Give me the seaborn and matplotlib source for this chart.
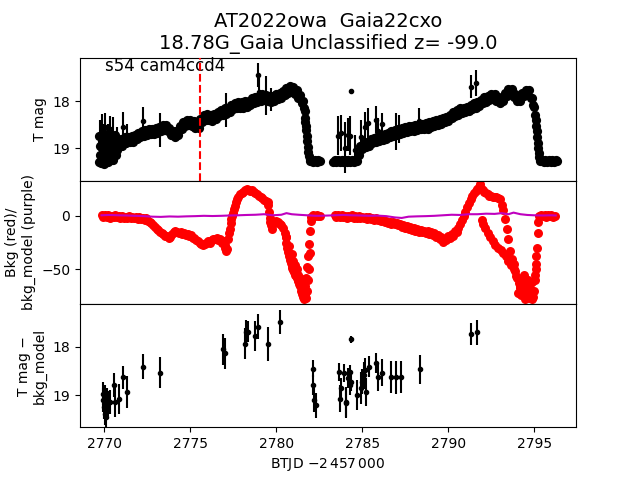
import matplotlib
matplotlib.use("Agg")
import matplotlib.pyplot as plt
import numpy as np
import pandas as pd
import seaborn as sns

# ---------------- data ----------------
title_text = "AT2022owa  Gaia22cxo\n18.78G_Gaia Unclassified z= -99.0"
sector_text = "s54 cam4ccd4"
marker_time = 2775.57

# top panel: dense light curve, segment 1 (time, T mag)
top_seg1 = [
    (2769.70, 19.30), (2769.75, 18.95), (2769.80, 19.32), (2769.85, 18.85), (2769.90, 19.28),
    (2769.95, 19.05), (2770.00, 19.33), (2770.05, 18.75), (2770.10, 19.25), (2770.15, 18.95),
    (2770.20, 19.30), (2770.25, 19.00), (2770.30, 19.20), (2770.35, 18.70), (2770.40, 19.15),
    (2770.45, 18.90), (2770.50, 19.10), (2770.55, 18.80), (2770.60, 19.05), (2770.65, 18.85),
    (2770.70, 18.98), (2770.80, 18.84), (2770.90, 18.95), (2771.00, 18.80), (2771.10, 18.90),
    (2771.20, 18.77), (2771.30, 18.88), (2771.40, 18.76), (2771.50, 18.87), (2771.60, 18.75),
    (2771.70, 18.86), (2771.80, 18.72), (2771.90, 18.81), (2772.00, 18.68), (2772.10, 18.77),
    (2772.20, 18.63), (2772.30, 18.74), (2772.40, 18.61), (2772.50, 18.72), (2772.60, 18.59),
    (2772.70, 18.70), (2772.80, 18.58), (2772.90, 18.69), (2773.00, 18.57), (2773.10, 18.68),
    (2773.20, 18.54), (2773.30, 18.64), (2773.40, 18.51), (2773.50, 18.62), (2773.60, 18.50),
    (2773.70, 18.64), (2773.80, 18.56), (2773.90, 18.72), (2774.00, 18.63), (2774.10, 18.76),
    (2774.20, 18.64), (2774.30, 18.71), (2774.40, 18.52), (2774.50, 18.58), (2774.60, 18.43),
    (2774.70, 18.53), (2774.80, 18.40), (2774.90, 18.51), (2775.00, 18.39), (2775.10, 18.52),
    (2775.20, 18.42), (2775.30, 18.57), (2775.40, 18.46), (2775.50, 18.56), (2775.60, 18.38),
    (2775.70, 18.44), (2775.80, 18.28), (2775.90, 18.39), (2776.00, 18.27), (2776.10, 18.39),
    (2776.20, 18.28), (2776.30, 18.41), (2776.40, 18.27), (2776.50, 18.37), (2776.60, 18.23),
    (2776.70, 18.32), (2776.80, 18.18), (2776.90, 18.28), (2777.00, 18.15), (2777.10, 18.26),
    (2777.20, 18.13), (2777.30, 18.23), (2777.40, 18.08), (2777.50, 18.17), (2777.60, 18.04),
    (2777.70, 18.15), (2777.80, 18.02), (2777.90, 18.14), (2778.00, 18.02), (2778.10, 18.13),
    (2778.20, 18.00), (2778.30, 18.12), (2778.40, 17.98), (2778.50, 18.07), (2778.60, 17.93),
    (2778.70, 18.04), (2778.80, 17.91), (2778.90, 18.02), (2779.00, 17.88), (2779.10, 17.98),
    (2779.20, 17.85), (2779.30, 17.97), (2779.40, 17.86), (2779.50, 17.99), (2779.60, 17.89),
    (2779.70, 18.02), (2779.80, 17.89), (2779.90, 17.99), (2780.00, 17.85), (2780.10, 17.95),
    (2780.20, 17.82), (2780.30, 17.92), (2780.40, 17.77), (2780.50, 17.86), (2780.60, 17.71),
    (2780.70, 17.81), (2780.80, 17.67), (2780.90, 17.80), (2781.00, 17.70), (2781.10, 17.85),
    (2781.20, 17.76), (2781.30, 17.93), (2781.40, 17.86), (2781.50, 18.04), (2781.55, 17.98),
    (2781.60, 18.14), (2781.65, 18.20), (2781.68, 18.35), (2781.70, 18.45), (2781.73, 18.52),
    (2781.76, 18.62), (2781.79, 18.74), (2781.82, 18.85), (2781.85, 18.97), (2781.88, 19.08),
    (2781.91, 19.16), (2781.94, 19.24), (2781.97, 19.27), (2782.05, 19.25), (2782.15, 19.29),
    (2782.25, 19.26), (2782.35, 19.29), (2782.45, 19.26), (2782.55, 19.28),
    # extra points of the noisy block at the start of the sector
    (2769.72, 18.75), (2769.78, 19.15), (2769.88, 19.00), (2769.92, 18.70), (2770.02, 19.10),
    (2770.08, 18.90), (2770.12, 19.10), (2770.18, 18.70), (2770.22, 19.12), (2770.28, 18.80),
    (2770.38, 18.95), (2770.42, 19.25), (2770.48, 18.75), (2770.52, 19.25), (2770.58, 18.95),
    (2770.62, 18.72), (2770.68, 19.15), (2770.75, 19.05), (2770.85, 18.95), (2770.95, 18.82),
    (2771.05, 18.95),
]

# top panel: dense light curve, segment 2 (time, T mag)
top_seg2 = [
    (2783.30, 19.29), (2783.40, 19.25), (2783.50, 19.29), (2783.60, 19.25), (2783.70, 19.29),
    (2783.80, 19.25), (2783.90, 19.29), (2784.00, 19.25), (2784.10, 19.29), (2784.20, 19.25),
    (2784.30, 19.29), (2784.40, 19.25), (2784.50, 19.29), (2784.60, 19.25), (2784.70, 19.27),
    (2784.80, 19.15), (2784.90, 18.95), (2785.00, 19.02), (2785.10, 18.89), (2785.20, 18.98),
    (2785.30, 18.86), (2785.40, 18.95), (2785.50, 18.81), (2785.60, 18.90), (2785.70, 18.78),
    (2785.80, 18.87), (2785.90, 18.75), (2786.00, 18.84), (2786.10, 18.72), (2786.20, 18.82),
    (2786.30, 18.70), (2786.40, 18.80), (2786.50, 18.68), (2786.60, 18.77), (2786.70, 18.64),
    (2786.80, 18.74), (2786.90, 18.62), (2787.00, 18.72), (2787.10, 18.60), (2787.20, 18.70),
    (2787.30, 18.57), (2787.40, 18.67), (2787.50, 18.55), (2787.60, 18.65), (2787.70, 18.53),
    (2787.80, 18.64), (2787.90, 18.52), (2788.00, 18.63), (2788.10, 18.51), (2788.20, 18.62),
    (2788.30, 18.50), (2788.40, 18.60), (2788.50, 18.49), (2788.60, 18.59), (2788.70, 18.47),
    (2788.80, 18.58), (2788.90, 18.45), (2789.00, 18.54), (2789.10, 18.42), (2789.20, 18.52),
    (2789.30, 18.40), (2789.40, 18.50), (2789.50, 18.38), (2789.60, 18.48), (2789.70, 18.35),
    (2789.80, 18.45), (2789.90, 18.33), (2790.00, 18.42), (2790.10, 18.28), (2790.20, 18.36),
    (2790.30, 18.23), (2790.40, 18.32), (2790.50, 18.19), (2790.60, 18.28), (2790.70, 18.15),
    (2790.80, 18.25), (2790.90, 18.13), (2791.00, 18.23), (2791.10, 18.11), (2791.20, 18.20),
    (2791.30, 18.07), (2791.40, 18.16), (2791.50, 18.03), (2791.60, 18.13), (2791.70, 18.01),
    (2791.80, 18.10), (2791.90, 17.96), (2792.00, 18.04), (2792.10, 17.91), (2792.20, 18.01),
    (2792.30, 17.88), (2792.40, 17.97), (2792.50, 17.84), (2792.60, 17.94), (2792.70, 17.84),
    (2792.80, 17.98), (2792.90, 17.90), (2793.00, 18.03), (2793.10, 17.91), (2793.20, 17.98),
    (2793.30, 17.82), (2793.40, 17.88), (2793.50, 17.74), (2793.60, 17.83), (2793.70, 17.74),
    (2793.80, 17.90), (2793.90, 17.85), (2794.00, 18.00), (2794.10, 17.90), (2794.20, 17.98),
    (2794.30, 17.82), (2794.40, 17.89), (2794.50, 17.75), (2794.60, 17.85), (2794.70, 17.75),
    (2794.80, 17.92), (2794.90, 17.93), (2794.95, 18.08), (2795.00, 18.12), (2795.05, 18.30),
    (2795.08, 18.40), (2795.11, 18.52), (2795.14, 18.64), (2795.17, 18.76), (2795.20, 18.88),
    (2795.23, 19.00), (2795.26, 19.10), (2795.29, 19.18), (2795.32, 19.24), (2795.35, 19.27),
    (2795.45, 19.25), (2795.55, 19.29), (2795.65, 19.25), (2795.75, 19.29), (2795.85, 19.25),
    (2795.95, 19.29), (2796.05, 19.25), (2796.15, 19.29), (2796.25, 19.26), (2796.32, 19.28),
]

# top panel: points with visible error bars (time, T mag, error)
top_spikes = [
    (2769.75, 18.70, 0.30), (2769.85, 18.62, 0.35), (2769.96, 18.89, 0.40), (2770.05, 18.55, 0.30),
    (2770.25, 18.80, 0.32), (2770.32, 18.60, 0.28), (2770.54, 18.71, 0.37), (2770.60, 19.05, 0.30),
    (2770.74, 18.85, 0.30), (2771.12, 18.54, 0.32), (2771.32, 18.74, 0.25), (2772.28, 18.41, 0.30),
    (2773.25, 18.61, 0.36), (2777.08, 18.18, 0.36), (2778.95, 17.43, 0.26), (2778.98, 17.80, 0.30),
    (2779.44, 17.87, 0.41), (2779.73, 17.96, 0.25),
    (2783.59, 18.73, 0.41), (2783.79, 18.68, 0.39), (2783.98, 18.99, 0.55), (2784.17, 18.71, 0.36),
    (2784.31, 18.73, 0.41), (2784.33, 17.77, 0.04), (2784.56, 19.04, 0.32), (2784.95, 18.77, 0.38),
    (2785.14, 18.54, 0.32), (2785.33, 18.46, 0.32), (2785.78, 18.39, 0.29), (2785.91, 18.64, 0.29),
    (2786.17, 18.48, 0.23), (2786.98, 18.64, 0.39), (2787.17, 18.59, 0.30), (2788.33, 18.41, 0.27),
    (2791.33, 17.68, 0.25), (2791.62, 17.61, 0.28),
]

# middle panel: background flux (time, bkg)
bkg_seg1 = [
    (2769.85, 0.5), (2769.95, -1.5), (2770.05, 1.0), (2770.15, -1.0), (2770.25, 0.5), (2770.35, -2.0),
    (2770.45, 0.0), (2770.55, -1.5), (2770.65, 1.0), (2770.75, -1.0), (2770.85, 0.0), (2770.95, -2.0),
    (2771.05, -0.5), (2771.15, -2.5), (2771.25, -1.0), (2771.35, -2.0), (2771.45, -0.5), (2771.55, -2.5),
    (2771.65, -1.0), (2771.75, -2.5), (2771.85, -1.5), (2771.95, -3.0), (2772.05, -1.5), (2772.15, -3.0),
    (2772.25, -2.0), (2772.35, -3.5), (2772.45, -2.5), (2772.55, -4.5), (2772.65, -5.5), (2772.75, -7.0),
    (2772.85, -9.0), (2772.95, -10.5), (2773.05, -12.0), (2773.15, -13.0), (2773.25, -15.0), (2773.35, -16.0),
    (2773.45, -17.0), (2773.55, -18.5), (2773.65, -19.0), (2773.75, -20.5), (2773.85, -19.5), (2773.95, -17.5),
    (2774.05, -15.5), (2774.15, -14.0), (2774.25, -15.0), (2774.35, -16.5), (2774.45, -15.5), (2774.55, -17.0),
    (2774.65, -16.0), (2774.75, -18.0), (2774.85, -17.0), (2774.95, -19.0), (2775.05, -18.0), (2775.15, -20.5),
    (2775.25, -21.0), (2775.35, -23.0), (2775.45, -23.5), (2775.55, -25.0), (2775.65, -26.0), (2775.75, -27.5),
    (2775.85, -26.0), (2775.95, -25.0), (2776.05, -24.0), (2776.15, -25.5), (2776.25, -23.0), (2776.35, -22.0),
    (2776.45, -21.5), (2776.55, -21.0), (2776.65, -23.0), (2776.75, -22.0), (2776.85, -25.0), (2776.95, -24.0),
    (2777.00, -27.0), (2777.05, -30.0), (2777.10, -33.0), (2777.15, -31.0), (2777.20, -22.0), (2777.25, -16.0),
    (2777.30, -12.0), (2777.35, -7.0), (2777.40, -3.0), (2777.45, 0.0), (2777.50, 3.0), (2777.55, 6.0),
    (2777.60, 9.0), (2777.65, 13.0), (2777.70, 16.0), (2777.80, 18.0), (2777.90, 20.0), (2778.00, 21.5),
    (2778.10, 22.0), (2778.20, 24.0), (2778.30, 25.0), (2778.40, 24.5), (2778.50, 23.5), (2778.60, 24.0),
    (2778.70, 22.0), (2778.80, 21.0), (2778.90, 20.0), (2779.00, 19.0), (2779.10, 17.5), (2779.20, 16.5),
    (2779.30, 15.0), (2779.40, 14.0), (2779.50, 12.5), (2779.55, 10.0), (2779.60, 4.0), (2779.62, -2.0),
    (2779.65, -6.0), (2779.70, -9.0), (2779.75, -12.0), (2779.80, -8.0), (2779.90, -6.0), (2780.00, -5.0),
    (2780.10, -6.0), (2780.20, -7.5), (2780.30, -9.0), (2780.40, -11.5), (2780.50, -16.0), (2780.55, -20.0),
    (2780.60, -25.0), (2780.65, -30.0), (2780.70, -34.0), (2780.75, -38.0), (2780.80, -41.0), (2780.85, -44.0),
    (2780.90, -47.0), (2780.95, -49.0), (2781.00, -51.0), (2781.05, -53.0), (2781.10, -55.0), (2781.15, -56.0),
    (2781.20, -58.0), (2781.25, -60.0), (2781.30, -61.0), (2781.35, -64.0), (2781.40, -66.0), (2781.45, -70.0),
    (2781.50, -73.0), (2781.55, -76.0), (2781.60, -78.0), (2781.65, -74.0), (2781.70, -66.0), (2781.75, -58.0),
    (2781.80, -48.0), (2781.85, -38.0), (2781.90, -26.0), (2781.95, -14.0), (2782.00, -5.0), (2782.05, -1.0),
    (2782.15, 0.5), (2782.25, -0.5), (2782.35, 0.5), (2782.45, -0.5), (2782.55, 0.0),
    (2780.60, -20.0), (2780.75, -28.0), (2780.90, -36.0), (2781.00, -42.0), (2781.10, -46.0), (2781.20, -50.0),
    (2781.30, -55.0), (2781.40, -58.0), (2781.50, -62.0), (2781.60, -65.0), (2781.70, -72.0), (2781.75, -77.0),
    (2781.80, -70.0), (2781.85, -60.0), (2781.90, -50.0), (2781.95, -35.0),
]

bkg_seg2 = [
    (2783.40, 0.5), (2783.50, -1.0), (2783.60, 1.0), (2783.70, -1.5), (2783.80, 0.5), (2783.90, -1.0),
    (2784.00, 0.0), (2784.10, -2.0), (2784.20, 0.0), (2784.30, -1.5), (2784.40, 0.5), (2784.50, -2.0),
    (2784.60, -0.5), (2784.70, -2.0), (2784.80, -0.5), (2784.90, -2.5), (2785.00, -1.0), (2785.10, -2.5),
    (2785.20, -1.5), (2785.30, -3.0), (2785.40, -1.5), (2785.50, -3.0), (2785.60, -2.0), (2785.70, -3.5),
    (2785.80, -2.5), (2785.90, -4.0), (2786.00, -3.0), (2786.10, -5.0), (2786.20, -4.0), (2786.30, -6.0),
    (2786.40, -5.0), (2786.50, -7.0), (2786.60, -5.5), (2786.70, -7.5), (2786.80, -6.0), (2786.90, -8.0),
    (2787.00, -6.5), (2787.10, -9.0), (2787.20, -7.5), (2787.30, -10.5), (2787.40, -8.5), (2787.50, -11.0),
    (2787.60, -9.5), (2787.70, -12.0), (2787.80, -10.5), (2787.90, -13.0), (2788.00, -11.5), (2788.10, -14.0),
    (2788.20, -12.5), (2788.30, -15.0), (2788.40, -13.0), (2788.50, -15.5), (2788.60, -14.0), (2788.70, -16.0),
    (2788.80, -14.5), (2788.90, -17.0), (2789.00, -15.5), (2789.10, -18.0), (2789.20, -16.5), (2789.30, -19.5),
    (2789.40, -18.0), (2789.50, -22.0), (2789.60, -20.0), (2789.70, -24.5), (2789.80, -22.0), (2789.90, -23.0),
    (2790.00, -19.0), (2790.10, -21.0), (2790.20, -17.0), (2790.30, -18.5), (2790.40, -14.0), (2790.50, -15.0),
    (2790.60, -11.0), (2790.70, -8.0), (2790.80, -4.0), (2790.90, 0.0), (2791.00, 4.0), (2791.10, 8.0),
    (2791.20, 12.0), (2791.30, 16.0), (2791.40, 19.0), (2791.50, 21.0), (2791.60, 23.5), (2791.70, 25.0),
    (2791.80, 27.0), (2791.85, 29.5), (2791.90, 26.0), (2792.00, 24.0), (2792.10, 22.0), (2792.20, 21.0),
    (2792.30, 20.0), (2792.40, 18.5), (2792.50, 19.0), (2792.60, 18.0), (2792.70, 17.5), (2792.80, 18.0),
    (2792.90, 16.5), (2793.00, 15.5), (2793.10, 10.0), (2793.20, 5.0), (2793.30, -3.0), (2793.40, -12.0),
    (2793.50, -22.0), (2793.60, -33.0), (2793.70, -40.0), (2793.80, -45.0), (2793.90, -52.0), (2794.00, -58.0),
    (2794.10, -63.0), (2794.20, -68.0), (2794.30, -60.0), (2794.40, -55.0), (2794.50, -65.0), (2794.60, -72.0),
    (2794.70, -77.0), (2794.80, -74.0), (2794.90, -78.0), (2795.00, -70.0), (2795.05, -60.0), (2795.10, -45.0),
    (2795.15, -30.0), (2795.20, -16.0), (2795.25, -6.0), (2795.30, 0.0), (2795.40, 1.0), (2795.50, -0.5),
    (2795.60, 0.5), (2795.70, -1.0), (2795.80, 0.5), (2795.90, -0.5), (2796.00, 0.5), (2796.10, -1.0),
    (2796.20, 0.0),
    (2791.95, -4.0), (2792.05, -8.0), (2792.15, -11.0), (2792.30, -16.0), (2792.45, -20.0), (2792.60, -24.0),
    (2792.75, -27.0), (2792.90, -30.0), (2793.05, -32.0), (2793.20, -35.0), (2793.35, -38.0), (2793.50, -42.0),
    (2793.65, -46.0), (2793.80, -50.0), (2793.95, -56.0), (2794.05, -72.0), (2794.15, -66.0), (2794.25, -74.0),
    (2794.35, -70.0), (2794.45, -78.0), (2794.55, -62.0), (2794.65, -60.0), (2794.75, -68.0), (2794.85, -62.0),
    (2794.95, -76.0), (2795.02, -55.0), (2795.08, -38.0), (2795.12, -50.0),
]

# middle panel: background model (time, value)
bkg_model = [
    (2769.85, 0.5), (2770.30, 0.8), (2770.80, 0.5), (2771.30, 0.3), (2771.80, 0.0), (2772.30, -0.3),
    (2772.80, -0.8), (2773.30, -1.0), (2773.80, -0.6), (2774.30, -0.8), (2774.80, -0.5), (2775.30, -0.3),
    (2775.80, 0.0), (2776.30, -0.2), (2776.80, 0.0), (2777.30, 0.3), (2777.80, 0.5), (2778.30, 0.8),
    (2778.80, 1.0), (2779.30, 1.5), (2779.80, 0.5), (2780.30, 1.0), (2780.60, 2.5), (2780.90, 1.5),
    (2781.30, 1.0), (2781.80, 0.5), (2782.30, 0.0), (2782.55, 0.0), (2783.40, 0.5), (2783.90, 0.8),
    (2784.40, 0.5), (2784.90, 0.3), (2785.40, 0.0), (2785.90, 0.2), (2786.40, -0.3), (2786.90, -1.5),
    (2787.30, -2.0), (2787.70, -0.8), (2788.20, -0.5), (2788.70, -0.3), (2789.20, 0.0), (2789.70, 0.5),
    (2790.20, 1.0), (2790.70, 0.8), (2791.20, 1.5), (2791.70, 1.5), (2792.20, 2.0), (2792.70, 1.8),
    (2793.10, 2.5), (2793.50, 1.5), (2793.80, 3.0), (2794.20, 1.5), (2794.60, 0.8), (2795.00, 0.5),
    (2795.50, 0.3), (2796.00, 0.5), (2796.25, 0.3),
]

# bottom panel: T mag - bkg_model (time, mag, error)
diff_points = [
    (2769.92, 18.97, 0.24), (2769.96, 19.10, 0.25), (2770.00, 19.24, 0.26), (2770.03, 19.05, 0.25),
    (2770.06, 19.38, 0.24), (2770.12, 19.45, 0.22), (2770.15, 19.10, 0.25), (2770.25, 19.17, 0.25),
    (2770.35, 19.14, 0.25), (2770.58, 18.79, 0.24), (2770.64, 19.14, 0.30), (2770.89, 19.08, 0.31),
    (2771.08, 18.63, 0.24), (2771.35, 18.93, 0.33), (2772.24, 18.41, 0.26), (2773.24, 18.54, 0.32),
    (2776.92, 18.05, 0.32), (2777.02, 18.14, 0.31), (2778.18, 17.94, 0.32), (2778.26, 17.70, 0.25),
    (2778.39, 17.69, 0.22), (2778.78, 17.78, 0.30), (2778.95, 17.59, 0.26), (2779.53, 17.94, 0.35),
    (2780.20, 17.49, 0.24), (2782.14, 18.45, 0.17), (2782.14, 18.79, 0.20), (2782.18, 19.10, 0.25),
    (2782.30, 19.21, 0.26),
    (2783.65, 18.52, 0.19), (2783.69, 19.07, 0.28), (2783.77, 18.86, 0.21), (2783.92, 18.54, 0.19),
    (2784.04, 19.14, 0.30), (2784.08, 19.17, 0.30), (2784.15, 18.65, 0.21), (2784.27, 18.52, 0.15),
    (2784.27, 18.79, 0.20), (2784.33, 17.85, 0.08), (2784.37, 18.72, 0.20), (2784.69, 19.00, 0.31),
    (2784.95, 18.86, 0.33), (2785.00, 18.72, 0.25), (2785.08, 18.59, 0.28), (2785.16, 18.48, 0.25),
    (2785.24, 18.93, 0.29), (2785.39, 18.41, 0.22), (2785.78, 18.34, 0.21), (2785.91, 18.62, 0.29),
    (2786.17, 18.54, 0.28), (2786.69, 18.63, 0.33), (2786.98, 18.63, 0.34), (2787.27, 18.63, 0.33),
    (2788.37, 18.47, 0.29), (2791.35, 17.74, 0.22), (2791.65, 17.70, 0.26),
]

y_labels = ["T mag", "Bkg (red)/\nbkg_model (purple)", "T mag \u2212\nbkg_model"]
x_label = "BTJD $-2\\,457\\,000$"

# ---------------- build frames ----------------
top_df = pd.DataFrame(top_seg1 + top_seg2, columns=["t", "mag"])
spk_df = pd.DataFrame(top_spikes, columns=["t", "mag", "err"])
bkg_df = pd.DataFrame(bkg_seg1 + bkg_seg2, columns=["t", "bkg"])
mod_df = pd.DataFrame(bkg_model, columns=["t", "model"])
dif_df = pd.DataFrame(diff_points, columns=["t", "mag", "err"])

fig, axes = plt.subplots(3, 1, figsize=(6.4, 4.8), dpi=100, sharex=True)
fig.subplots_adjust(left=0.125, right=0.9, top=0.88, bottom=0.11, hspace=0)
ax0, ax1, ax2 = axes

# top panel
ax0.errorbar(spk_df["t"], spk_df["mag"], yerr=spk_df["err"], fmt="k.", elinewidth=1.5, zorder=2)
sns.scatterplot(data=top_df, x="t", y="mag", color="black", s=44, linewidth=0, ax=ax0, zorder=3)
ax0.axvline(marker_time, color="red", ls="--", lw=1.5, zorder=4)
ax0.set_ylim(19.70, 17.06)
ax0.set_yticks([18, 19])
ax0.set_title(title_text, fontsize=14)
ax0.text(0.05, 1.005, sector_text, transform=ax0.transAxes, ha="left", va="top", fontsize=12)

# middle panel
sns.scatterplot(data=bkg_df, x="t", y="bkg", color="red", s=42, linewidth=0, ax=ax1, zorder=2)
sns.lineplot(data=mod_df, x="t", y="model", color="m", lw=1.5, ax=ax1, zorder=3)
ax1.set_ylim(-82.6, 32.8)
ax1.set_yticks([0, -50])

# bottom panel
ax2.errorbar(dif_df["t"], dif_df["mag"], yerr=dif_df["err"], fmt="k.", elinewidth=1.5)
ax2.set_ylim(19.66, 17.12)
ax2.set_yticks([18, 19])
ax2.set_xticks([2770, 2775, 2780, 2785, 2790, 2795])
ax2.set_xlim(2768.6, 2797.43)

for ax, lab in zip(axes, y_labels):
    ax.set_ylabel(lab)
    ax.set_xlabel("")
for ax in (ax0, ax1):
    ax.tick_params(axis="x", which="both", bottom=False, labelbottom=False)
ax2.set_xlabel(x_label)

fig.savefig("out.png", dpi=100)
